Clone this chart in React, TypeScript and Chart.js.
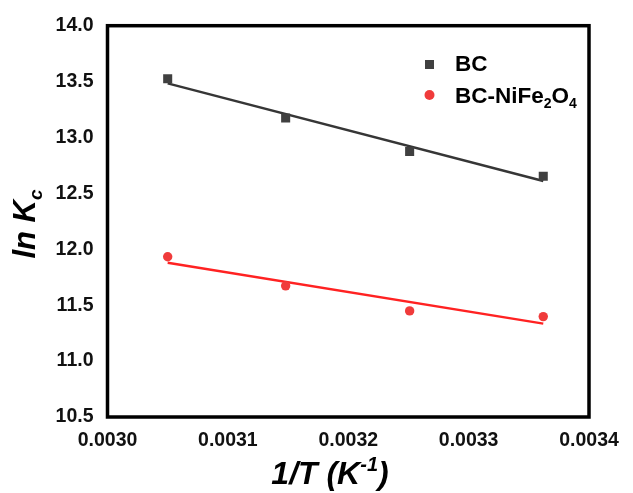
import React, { useEffect, useRef } from "react";
import { Chart, registerables } from "chart.js";

Chart.register(...registerables);

// Data
const invT = [0.00305, 0.003148, 0.003251, 0.003362];
const bcLnKc = [13.525, 13.174, 12.875, 12.653];
const nfLnKc = [11.933, 11.673, 11.449, 11.398];
const xTicks = [0.003, 0.0031, 0.0032, 0.0033, 0.0034];
const yTicks = [10.5, 11.0, 11.5, 12.0, 12.5, 13.0, 13.5, 14.0];

const BC_COLOR = "#404040";
const BC_LINE = "#363636";
const NF_COLOR = "#f03b3b";
const NF_LINE = "#ff2222";

function fit(xs: number[], ys: number[]) {
  const n = xs.length;
  const mx = xs.reduce((a, b) => a + b, 0) / n;
  const my = ys.reduce((a, b) => a + b, 0) / n;
  let sxy = 0, sxx = 0;
  for (let i = 0; i < n; i++) {
    sxy += (xs[i] - mx) * (ys[i] - my);
    sxx += (xs[i] - mx) * (xs[i] - mx);
  }
  const k = sxy / sxx;
  const b = my - k * mx;
  const x0 = Math.min(...xs), x1 = Math.max(...xs);
  return [{ x: x0, y: k * x0 + b }, { x: x1, y: k * x1 + b }];
}

type Part = { t: string; s?: "sub" | "sup" };

function drawRich(ctx: CanvasRenderingContext2D, parts: Part[], x: number, y: number, size: number, style: string, align: "left" | "center") {
  const fam = '"Liberation Sans", Arial, sans-serif';
  const fontFor = (p: Part) => `${style} ${p.s ? Math.round(size * 0.62) : size}px ${fam}`;
  let total = 0;
  const widths = parts.map((p) => {
    ctx.font = fontFor(p);
    const w = ctx.measureText(p.t).width;
    total += w;
    return w;
  });
  let cx = align === "center" ? x - total / 2 : x;
  parts.forEach((p, i) => {
    ctx.font = fontFor(p);
    const dy = p.s === "sub" ? size * 0.22 : p.s === "sup" ? -size * 0.4 : 0;
    ctx.fillText(p.t, cx, y + dy);
    cx += widths[i];
  });
}

const decorPlugin = {
  id: "decor",
  afterDraw(chart: any) {
    const { ctx, chartArea } = chart;
    ctx.save();
    // frame
    ctx.strokeStyle = "#000";
    ctx.lineWidth = 3.5;
    ctx.strokeRect(chartArea.left, chartArea.top, chartArea.right - chartArea.left, chartArea.bottom - chartArea.top);
    ctx.fillStyle = "#000";
    ctx.textBaseline = "alphabetic";
    ctx.textAlign = "left";
    // x title
    drawRich(ctx, [{ t: "1/T (K" }, { t: "-1", s: "sup" }, { t: ")" }], 330, 484, 32, "italic bold", "center");
    // y title
    ctx.save();
    ctx.translate(35, 224);
    ctx.rotate(-Math.PI / 2);
    drawRich(ctx, [{ t: "ln K" }, { t: "c", s: "sub" }], 0, 0, 31, "italic bold", "center");
    ctx.restore();
    // legend
    ctx.fillStyle = BC_COLOR;
    ctx.fillRect(425, 60, 9, 9);
    ctx.fillStyle = NF_COLOR;
    ctx.beginPath();
    ctx.arc(429.5, 95, 5, 0, Math.PI * 2);
    ctx.fill();
    ctx.fillStyle = "#000";
    drawRich(ctx, [{ t: "BC" }], 455, 71, 22.5, "bold", "left");
    drawRich(ctx, [{ t: "BC-NiFe" }, { t: "2", s: "sub" }, { t: "O" }, { t: "4", s: "sub" }], 455, 103, 22.5, "bold", "left");
    ctx.restore();
  },
};

export default function App() {
  const ref = useRef<HTMLCanvasElement | null>(null);
  useEffect(() => {
    document.body.style.margin = "0";
    if (!ref.current) return;
    const font = { family: '"Liberation Sans", Arial, sans-serif', size: 19.5, weight: "bold" as const };
    const chart = new Chart(ref.current, {
      type: "scatter",
      data: {
        datasets: [
          {
            label: "BC",
            data: invT.map((x, i) => ({ x, y: bcLnKc[i] })),
            pointStyle: "rect",
            pointRadius: 6.4,
            backgroundColor: BC_COLOR,
            borderColor: BC_COLOR,
            borderWidth: 0,
            order: 1,
          },
          {
            label: "BC-NiFe2O4",
            data: invT.map((x, i) => ({ x, y: nfLnKc[i] })),
            pointStyle: "circle",
            pointRadius: 4.7,
            backgroundColor: NF_COLOR,
            borderColor: NF_COLOR,
            borderWidth: 0,
            order: 2,
          },
          {
            label: "BC fit",
            data: fit(invT, bcLnKc),
            showLine: true,
            pointRadius: 0,
            borderColor: BC_LINE,
            borderWidth: 2.5,
            order: 3,
          },
          {
            label: "BC-NiFe2O4 fit",
            data: fit(invT, nfLnKc),
            showLine: true,
            pointRadius: 0,
            borderColor: NF_LINE,
            borderWidth: 2.5,
            order: 4,
          },
        ],
      },
      options: {
        responsive: false,
        animation: false,
        layout: { padding: { top: 23, right: 44, left: 0, bottom: 0 } },
        plugins: { legend: { display: false }, tooltip: { enabled: false } },
        scales: {
          x: {
            type: "linear",
            min: 0.003,
            max: 0.0034,
            afterFit: (s: any) => { s.height = 76; },
            afterBuildTicks: (s: any) => { s.ticks = xTicks.map((v) => ({ value: v })); },
            grid: { display: false, drawTicks: false },
            border: { display: false },
            ticks: { padding: 12, color: "#111", font, callback: (v: any) => Number(v).toFixed(4), maxRotation: 0, autoSkip: false },
          },
          y: {
            type: "linear",
            min: 10.5,
            max: 14,
            afterFit: (s: any) => { s.width = 107.5; },
            afterBuildTicks: (s: any) => { s.ticks = yTicks.map((v) => ({ value: v })); },
            grid: { display: false, drawTicks: false },
            border: { display: false },
            ticks: { padding: 14, color: "#111", font, callback: (v: any) => Number(v).toFixed(1), autoSkip: false },
          },
        },
      },
      plugins: [decorPlugin],
    });
    return () => chart.destroy();
  }, []);
  return (
    <div style={{ width: 633, height: 493, background: "#fff" }}>
      <canvas ref={ref} width={633} height={493} />
    </div>
  );
}
